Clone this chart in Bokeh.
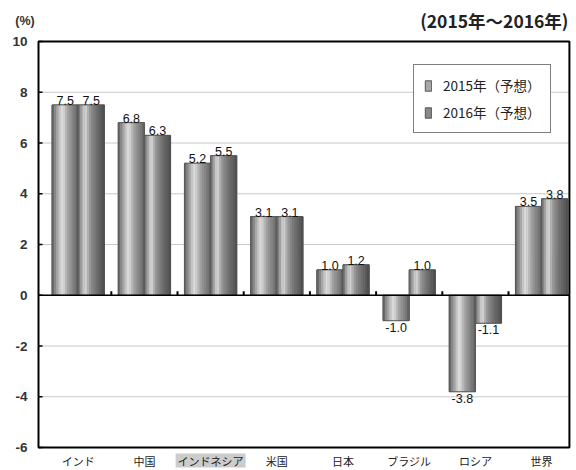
from bokeh.plotting import figure
from bokeh.models import (ColumnDataSource, Range1d, Label, LabelSet, Legend, LegendItem)
from bokeh.core.properties import value
from bokeh.transform import dodge
from bokeh.embed import file_html
from bokeh.resources import INLINE

# ---- data ----
categories = ["インド", "中国", "インドネシア", "米国", "日本", "ブラジル", "ロシア", "世界"]
growth_2015 = [7.5, 6.8, 5.2, 3.1, 1.0, -1.0, -3.8, 3.5]
growth_2016 = [7.5, 6.3, 5.5, 3.1, 1.2, 1.0, -1.1, 3.8]
series_names = ["2015年（予想）", "2016年（予想）"]
y_ticks = [-6, -4, -2, 0, 2, 4, 6, 8, 10]
highlight_index = 2
unit_label = "(%)"
period_label = "(2015年～2016年)"

JP = "Noto Sans CJK JP"
NUM = "Liberation Sans"
TXT = "#222222"

n = len(categories)
xc = [i + 0.5 for i in range(n)]
y_min, y_max = y_ticks[0], y_ticks[-1]

# layout (style constants, in data units of the category axis)
BOX_L, BOX_R = -0.10, 7.92
PX_X = 1 / 66.2     # one pixel in x data units
PX_Y = 1 / 25.375   # one pixel in y data units
p = figure(width=576, height=470, output_backend="svg", toolbar_location=None,
           x_range=Range1d(-0.674, 8.027), y_range=Range1d(-6.906, 11.616),
           min_border_left=0, min_border_right=0, min_border_top=0, min_border_bottom=0)
p.axis.visible = False
p.grid.visible = False
p.outline_line_color = None
p.background_fill_color = "white"
p.border_fill_color = "white"

# gridlines
gsrc = ColumnDataSource(dict(y=y_ticks, x0=[BOX_L] * len(y_ticks), x1=[BOX_R] * len(y_ticks),
                             t=[str(v) for v in y_ticks], xt=[BOX_L + 4 * PX_X] * len(y_ticks)))
p.segment(x0="x0", y0="y", x1="x1", y1="y", source=gsrc, line_color="#c8c8c8", line_width=1)

src = ColumnDataSource(dict(
    x=xc, cat=categories, v15=growth_2015, v16=growth_2016,
    l15=[f"{v:.1f}" for v in growth_2015], l16=[f"{v:.1f}" for v in growth_2016],
))

BW = 0.395
prof15 = ["#6a6a6a", "#888888", "#a6a6a6", "#c4c4c4", "#dadada", "#cfcfcf",
          "#b6b6b6", "#a0a0a0", "#919191", "#848484", "#777777", "#646464"]
prof16 = ["#787878", "#a0a0a0", "#c6c6c6", "#d0d0d0", "#b0b0b0", "#969696",
          "#868686", "#797979", "#6e6e6e", "#646464", "#5a5a5a", "#4e4e4e"]

legend_renderers = []
for field, off, prof, mid in (("v15", -BW / 2, prof15, "#a8a8a8"), ("v16", BW / 2, prof16, "#888888")):
    base = p.vbar(x=dodge("x", off, range=p.x_range), top=field, bottom=0, width=BW,
                  source=src, fill_color=mid, line_color="#555555", line_width=1)
    legend_renderers.append(base)
    k_n = len(prof)
    sw = BW / k_n
    for k, c in enumerate(prof):
        o = off - BW / 2 + sw * (k + 0.5)
        p.vbar(x=dodge("x", o, range=p.x_range), top=field, bottom=0, width=sw * 1.08,
               source=src, fill_color=c, line_color=None)
    p.vbar(x=dodge("x", off, range=p.x_range), top=field, bottom=0, width=BW,
           source=src, fill_color=None, line_color="#555555", line_width=0.8)

# zero line
p.segment(x0=[BOX_L], y0=[0], x1=[BOX_R], y1=[0], line_color="black", line_width=1.6)

# small ticks at category boundaries on zero line
bsrc = ColumnDataSource(dict(x=list(range(1, n)), y0=[0] * (n - 1), y1=[4 * PX_Y] * (n - 1)))
p.segment(x0="x", y0="y0", x1="x", y1="y1", source=bsrc, line_color="black", line_width=2)

# y ticks (inward) and labels
p.segment(x0="x0", y0="y", x1="xt", y1="y", source=gsrc, line_color="black", line_width=1.5)
p.add_layout(LabelSet(x="x0", y="y", text="t", source=gsrc, text_align="right",
                      text_baseline="middle", x_offset=-11, text_font=value(NUM),
                      text_font_style="bold", text_font_size="13.5px", text_color="#333333"))

# box
p.quad(left=[BOX_L], right=[BOX_R], bottom=[y_min], top=[y_max], fill_color=None,
       line_color="black", line_width=2)

# value labels
for field, lab, off in (("v15", "l15", -BW / 2), ("v16", "l16", BW / 2)):
    vals = src.data[field]
    pos = ColumnDataSource(dict(
        x=[x + off for x, v in zip(xc, vals) if v >= 0],
        y=[v for v in vals if v >= 0],
        t=[t for t, v in zip(src.data[lab], vals) if v >= 0]))
    neg = ColumnDataSource(dict(
        x=[x + off for x, v in zip(xc, vals) if v < 0],
        y=[v for v in vals if v < 0],
        t=[t for t, v in zip(src.data[lab], vals) if v < 0]))
    p.add_layout(LabelSet(x="x", y="y", text="t", source=pos, text_align="center",
                          text_baseline="bottom", y_offset=0, text_font=value(NUM),
                          text_font_size="12.5px", text_color="#111111"))
    p.add_layout(LabelSet(x="x", y="y", text="t", source=neg, text_align="center",
                          text_baseline="top", y_offset=-2, text_font=value(NUM),
                          text_font_size="12.5px", text_color="#111111"))

# highlight behind one category label
p.quad(left=[xc[highlight_index] - 35 * PX_X], right=[xc[highlight_index] + 35 * PX_X],
       top=[y_min - 6 * PX_Y], bottom=[y_min - 20 * PX_Y], fill_color="#cccccc", line_color=None)

# category labels
csrc = ColumnDataSource(dict(x=xc, y=[y_min] * n, t=categories))
p.add_layout(LabelSet(x="x", y="y", text="t", source=csrc, text_align="center",
                      text_baseline="middle", y_offset=-13, text_font=value(JP),
                      text_font_size="11px", text_color=TXT))

# header texts
p.add_layout(Label(x=-0.304, y=10.79, text=unit_label, text_font=NUM, text_font_size="12.5px",
                   text_font_style="bold", text_color="#333333", text_baseline="middle",
                   text_align="center"))
p.add_layout(Label(x=7.906, y=10.83, text=period_label, text_font=JP, text_font_size="17.5px",
                   text_font_style="bold", text_color=TXT, text_baseline="middle",
                   text_align="right"))

legend = Legend(items=[LegendItem(label=series_names[0], renderers=[legend_renderers[0]]),
                       LegendItem(label=series_names[1], renderers=[legend_renderers[1]])],
                location=(413, 337))
legend.border_line_color = "black"
legend.border_line_width = 1.5
legend.background_fill_color = "white"
legend.background_fill_alpha = 1
legend.label_text_font = JP
legend.label_text_font_size = "13.5px"
legend.label_text_color = TXT
legend.padding = 10
legend.spacing = 7
legend.label_height = 18
legend.glyph_height = 13
legend.glyph_width = 8
legend.label_standoff = 11
legend.margin = 0
p.add_layout(legend)

open("out.html", "w").write(file_html(p, INLINE))
